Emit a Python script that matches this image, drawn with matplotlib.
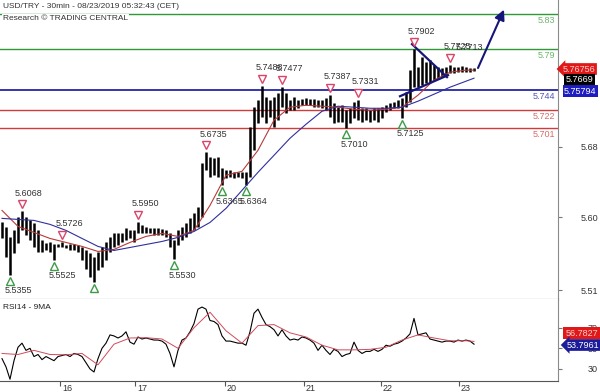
#!/usr/bin/env python3
"""USD/TRY 30min chart with pivot levels and RSI14 - 9MA sub panel."""
import matplotlib

matplotlib.use("Agg")
import matplotlib.pyplot as plt
from matplotlib.transforms import offset_copy, ScaledTranslation

# --- price bars (one bar every ~2h, bar index = x) -------------------------
HIGH = [
    5.5944, 5.5888, 5.5775, 5.5854, 5.6001, 5.6068, 5.6001, 5.5967, 5.5933, 5.5854,
    5.5745, 5.5712, 5.5720, 5.5705, 5.5698, 5.5726, 5.5690, 5.5700, 5.5695, 5.5690,
    5.5661, 5.5627, 5.5593, 5.5548, 5.5605, 5.5661, 5.5718, 5.5775, 5.5820, 5.5820,
    5.5820, 5.5876, 5.5854, 5.5854, 5.5950, 5.5910, 5.5888, 5.5876, 5.5876, 5.5876,
    5.5870, 5.5854, 5.5820, 5.5741, 5.5854, 5.5888, 5.5933, 5.5990, 5.6046, 5.6114,
    5.6613, 5.6735, 5.6681, 5.6669, 5.6681, 5.6556, 5.6533, 5.6533, 5.6511, 5.6511,
    5.6511, 5.6511, 5.7020, 5.7247, 5.7326, 5.7488, 5.7360, 5.7326, 5.7360, 5.7405,
    5.7477, 5.7405, 5.7326, 5.7360, 5.7326, 5.7340, 5.7349, 5.7340, 5.7345, 5.7326,
    5.7326, 5.7355, 5.7387, 5.7292, 5.7247, 5.7269, 5.7213, 5.7235, 5.7303, 5.7331,
    5.7235, 5.7235, 5.7213, 5.7235, 5.7235, 5.7247, 5.7269, 5.7292, 5.7303, 5.7326,
    5.7349, 5.7417, 5.7666, 5.7902, 5.7700, 5.7813, 5.7756, 5.7779, 5.7722, 5.7700,
    5.7688, 5.7700, 5.7725, 5.7700, 5.7700, 5.7713, 5.7700, 5.7695, 5.7690,
]
LOW = [
    5.5763, 5.5548, 5.5355, 5.5593, 5.5707, 5.5854, 5.5797, 5.5741, 5.5661, 5.5605,
    5.5605, 5.5627, 5.5605, 5.5525, 5.5661, 5.5661, 5.5650, 5.5627, 5.5627, 5.5605,
    5.5514, 5.5423, 5.5322, 5.5265, 5.5401, 5.5435, 5.5514, 5.5605, 5.5661, 5.5684,
    5.5718, 5.5741, 5.5763, 5.5718, 5.5820, 5.5820, 5.5820, 5.5820, 5.5797, 5.5797,
    5.5800, 5.5775, 5.5661, 5.5530, 5.5684, 5.5741, 5.5775, 5.5820, 5.5854, 5.5888,
    5.6001, 5.6533, 5.6454, 5.6477, 5.6454, 5.6365, 5.6443, 5.6454, 5.6443, 5.6454,
    5.6443, 5.6364, 5.6454, 5.6760, 5.7066, 5.7134, 5.7066, 5.7134, 5.7020, 5.7100,
    5.7247, 5.7179, 5.7213, 5.7213, 5.7235, 5.7269, 5.7269, 5.7269, 5.7247, 5.7247,
    5.7235, 5.7213, 5.7134, 5.7066, 5.7077, 5.7077, 5.7010, 5.7066, 5.7122, 5.7100,
    5.7077, 5.7100, 5.7077, 5.7100, 5.7077, 5.7122, 5.7190, 5.7213, 5.7235, 5.7235,
    5.7125, 5.7247, 5.7303, 5.7473, 5.7473, 5.7496, 5.7519, 5.7530, 5.7553, 5.7575,
    5.7587, 5.7609, 5.7632, 5.7632, 5.7643, 5.7643, 5.7643, 5.7643, 5.7654,
]
RSI = [
    40, 32, 20, 38, 51, 55, 48, 50, 42, 44,
    39, 42, 40, 38, 42, 43, 44, 42, 45, 44,
    42, 36, 30, 27, 40, 50, 55, 63, 62, 60,
    62, 66, 56, 54, 61, 59, 60, 59, 58, 58,
    57, 54, 45, 32, 48, 58, 60, 66, 74, 88,
    90, 88, 77, 76, 73, 62, 57, 57, 56, 55,
    55, 53, 66, 84, 88, 80, 73, 71, 68, 62,
    68, 62, 58, 59, 58, 61, 60, 58, 55, 48,
    53, 48, 44, 49, 47, 42, 44, 45, 56, 48,
    45, 47, 47, 49, 47, 49, 53, 52, 54, 55,
    57, 60, 64, 79, 63, 64, 65, 59, 58, 57,
    56, 57, 57, 56, 58, 57, 58, 57, 54,
]

# moving averages read every 4 bars
MA_BARS = list(range(0, 117, 4)) + [118]
MA_FAST = [
    5.6080, 5.5899, 5.5831, 5.5763, 5.5718, 5.5673, 5.5616, 5.5639, 5.5718, 5.5786,
    5.5820, 5.5786, 5.5854, 5.6137, 5.6477, 5.6522, 5.6760, 5.7100, 5.7247, 5.7269,
    5.7258, 5.7247, 5.7224, 5.7213, 5.7224, 5.7247, 5.7383, 5.7553, 5.7643, 5.7666,
    5.7666,
]
MA_SLOW = [
    5.5990, 5.5978, 5.5967, 5.5922, 5.5854, 5.5763, 5.5673, 5.5627, 5.5661, 5.5695,
    5.5729, 5.5775, 5.5842, 5.5944, 5.6103, 5.6307, 5.6511, 5.6703, 5.6896, 5.7054,
    5.7201, 5.7258, 5.7247, 5.7235, 5.7235, 5.7247, 5.7315, 5.7394, 5.7473, 5.7541,
    5.7575,
]
RSI_MA = [
    45, 44, 48, 44, 43.7, 45, 34, 54, 60, 60.3,
    59, 50, 70, 85, 67, 55, 72, 73, 65, 61,
    53, 48.5, 48.5, 49, 51, 58, 63, 60, 57.3, 57.3,
    56.7,
]

LEVELS = [5.83, 5.79, 5.744, 5.722, 5.701]
LEVEL_LABELS = ["5.83", "5.79", "5.744", "5.722", "5.701"]
LEVEL_COLORS = ["#2f9a35", "#2f9a35", "#2424a8", "#d33a3a", "#d33a3a"]
LEVEL_TEXT = ["#6cb56c", "#6cb56c", "#5656b8", "#d86a6a", "#d86a6a"]

PEAKS = [5, 15, 34, 51, 65, 70, 82, 89, 103, 112]
PEAK_LABELS = ["5.6068", "5.5726", "5.5950", "5.6735", "5.7488", "5.7477",
               "5.7387", "5.7331", "5.7902", "5.7725"]
TROUGHS = [2, 13, 23, 43, 55, 61, 86, 100]
TROUGH_LABELS = ["5.5355", "5.5525", "", "5.5530", "5.6365", "5.6364",
                 "5.7010", "5.7125"]
EXTRA_BAR, EXTRA_LABEL = 115, "5.7713"

WEDGE_UPPER = ([102.5, 111.25], [5.7960, 5.7587])
WEDGE_LOWER = ([99.5, 111.5], [5.7371, 5.7609])
ARROW_FROM, ARROW_TO = (119.0, 5.7690), (125.5, 5.8350)

DAY_TICKS = [14.5, 33.25, 55.75, 75.5, 94.75, 114.25]
DAY_LABELS = ["16", "17", "20", "21", "22", "23"]
PRICE_TICKS = [5.68, 5.60, 5.518]
PRICE_TICK_LABELS = ["5.68", "5.60", "5.51"]
RSI_TICKS = [70, 50, 30]

NAVY = "#16167a"
PEAK_COLOR = "#d9456a"
TROUGH_COLOR = "#3d9a46"

plt.rcParams.update({
    "font.family": ["Liberation Sans", "DejaVu Sans"],
    "font.size": 6.5,
})


def main() -> None:
    fig = plt.figure(figsize=(6.0, 3.92), dpi=100)
    ax = fig.add_axes([0.0, 0.2385, 0.93, 0.7615])
    rx = fig.add_axes([0.0, 0.0281, 0.93, 0.2104], sharex=ax)

    bars = list(range(len(HIGH)))
    ax.set_xlim(-0.5, 139)
    ax.set_ylim(5.5084, 5.8459)

    for lvl, col in zip(LEVELS, LEVEL_COLORS):
        ax.axhline(lvl, color=col, lw=1.3 if col == "#2424a8" else 1.0, zorder=1)
    below = offset_copy(ax.transData, fig, x=0, y=-2, units="dots")
    for lvl, lab, col in zip(LEVELS, LEVEL_LABELS, LEVEL_TEXT):
        ax.text(138.3, lvl, lab, ha="right", va="top", color=col,
                fontsize=6.5, transform=below, zorder=2)

    ax.vlines(bars, LOW, HIGH, color="black", lw=1.8, zorder=3)
    ax.plot(MA_BARS, MA_FAST, color="#b83a3a", lw=0.8, zorder=4)
    ax.plot(MA_BARS, MA_SLOW, color="#2f2fa0", lw=0.8, zorder=4)

    ax.plot(*WEDGE_UPPER, color=NAVY, lw=1.6, zorder=5)
    ax.plot(*WEDGE_LOWER, color=NAVY, lw=1.6, zorder=5)
    ax.annotate("", xy=ARROW_TO, xytext=ARROW_FROM,
                arrowprops=dict(arrowstyle="-|>", color=NAVY, lw=1.5,
                                mutation_scale=15, shrinkA=0, shrinkB=0),
                zorder=6)

    # pivot highs / lows
    up_mark = offset_copy(ax.transData, fig, x=0, y=7, units="dots")
    up_text = offset_copy(ax.transData, fig, x=7, y=18, units="dots")
    dn_mark = offset_copy(ax.transData, fig, x=0, y=-6, units="dots")
    dn_text = offset_copy(ax.transData, fig, x=8, y=-16, units="dots")
    for b, lab in zip(PEAKS, PEAK_LABELS):
        ax.plot(b, HIGH[b], marker="v", ms=5.5, mfc="white", mec=PEAK_COLOR,
                mew=1.0, transform=up_mark, zorder=7)
        ax.text(b, HIGH[b], lab, ha="center", va="center", color="#333333",
                transform=up_text, zorder=7)
    ax.text(EXTRA_BAR, HIGH[EXTRA_BAR], EXTRA_LABEL, ha="center", va="center",
            color="#333333", transform=up_text, zorder=7)
    for b, lab in zip(TROUGHS, TROUGH_LABELS):
        ax.plot(b, LOW[b], marker="^", ms=5.5, mfc="white", mec=TROUGH_COLOR,
                mew=1.0, transform=dn_mark, zorder=7, clip_on=False)
        if lab:
            ax.text(b, LOW[b], lab, ha="center", va="center", color="#333333",
                    transform=dn_text, zorder=7)

    # RSI panel
    rx.set_ylim(18.3, 98.3)
    rx.plot(bars, RSI, color="black", lw=0.8, zorder=3)
    rx.plot(MA_BARS, RSI_MA, color="#d04a5a", lw=0.7, zorder=4)
    rx.text(0.006, 0.93, "RSI14 - 9MA", transform=rx.transAxes, ha="left",
            va="top", fontsize=6, color="#222222")

    for a in (ax, rx):
        a.spines["left"].set_visible(False)
        a.spines["top"].set_visible(False)
        a.spines["right"].set_color("#8a8a8a")
        a.spines["bottom"].set_color("#555555")
        a.yaxis.tick_right()
        a.tick_params(axis="y", direction="out", length=3, color="#777777",
                      labelsize=6.5, labelcolor="#333333", pad=25.8)

    ax.set_yticks(PRICE_TICKS)
    ax.set_yticklabels(PRICE_TICK_LABELS)
    rx.set_yticks(RSI_TICKS)
    rx.set_yticklabels([str(t) for t in RSI_TICKS])
    for a in (ax, rx):
        plt.setp(a.get_yticklabels(), ha="right")

    ax.tick_params(axis="x", bottom=False, labelbottom=False)
    rx.set_xticks(DAY_TICKS)
    rx.set_xticklabels(DAY_LABELS)
    rx.tick_params(axis="x", direction="out", length=3.5, color="#555555",
                   labelsize=6.5, labelcolor="#333333", pad=-1.5)
    shift = ScaledTranslation(2 / 100, 0, fig.dpi_scale_trans)
    for lbl in rx.get_xticklabels():
        lbl.set_horizontalalignment("left")
        lbl.set_transform(lbl.get_transform() + shift)

    # header
    white = dict(boxstyle="square,pad=0.1", fc="white", ec="none")
    fig.text(0.005, 1 - 7 / 392, "USD/TRY - 30min - 08/23/2019 05:32:43 (CET)",
             ha="left", va="center", fontsize=6, color="#333333", bbox=white)
    fig.text(0.005, 1 - 18 / 392, "Research \u00a9 TRADING CENTRAL",
             ha="left", va="center", fontsize=6, color="#333333", bbox=white)

    # value tags on the right
    fig.text(0.938, 1 - 69 / 392, "5.76756", ha="left", va="center",
             fontsize=6.5, color="#ffd0d0",
             bbox=dict(boxstyle="larrow,pad=0.15", fc="#e01818", ec="none"))
    fig.text(0.943, 1 - 80 / 392, "5.7669", ha="left", va="center",
             fontsize=6.5, color="white",
             bbox=dict(boxstyle="square,pad=0.15", fc="black", ec="none"))
    fig.text(0.940, 1 - 91 / 392, "5.75794", ha="left", va="center",
             fontsize=6.5, color="white",
             bbox=dict(boxstyle="square,pad=0.15", fc="#1c1cc0", ec="none"))
    fig.text(0.942, 1 - 333 / 392, "56.7827", ha="left", va="center",
             fontsize=6.5, color="#ffd0d0",
             bbox=dict(boxstyle="square,pad=0.2", fc="#e01818", ec="none"))
    fig.text(0.945, 1 - 345 / 392, "53.7961", ha="left", va="center",
             fontsize=6.5, color="white",
             bbox=dict(boxstyle="larrow,pad=0.15", fc="#1c1c9a", ec="none"))

    fig.savefig("out.png", dpi=100)
    plt.close(fig)


if __name__ == "__main__":
    main()
